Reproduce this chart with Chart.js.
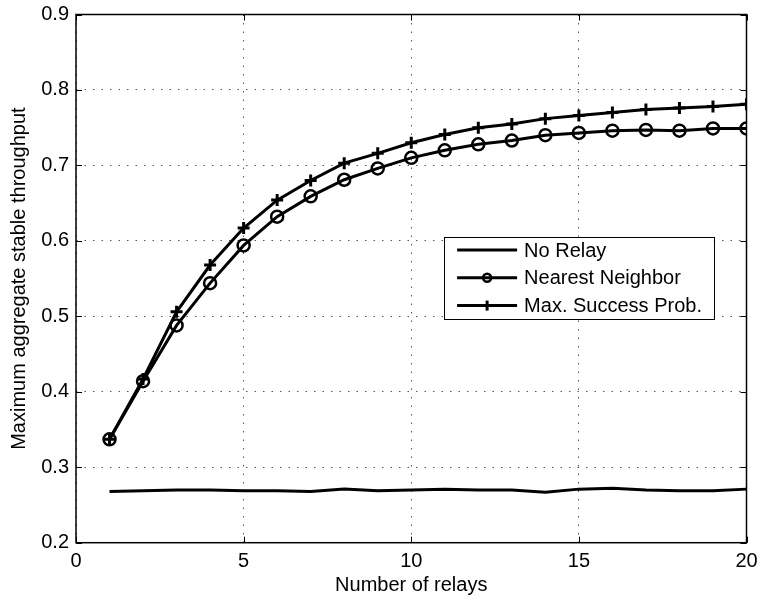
<!DOCTYPE html>
<html>
<head>
<meta charset="utf-8">
<script src="https://cdn.jsdelivr.net/npm/chart.js@4.4.0/dist/chart.umd.min.js"></script>
<style>
  html, body { margin: 0; padding: 0; background: #fff; }
  #wrap { width: 760px; height: 596px; }
</style>
</head>
<body>
<div id="wrap"><canvas id="c" width="760" height="596"></canvas></div>
<script>
const relays = [1,2,3,4,5,6,7,8,9,10,11,12,13,14,15,16,17,18,19,20];
const noRelay = [0.268,0.269,0.270,0.270,0.269,0.269,0.268,0.271,0.269,0.270,0.271,0.270,0.270,0.267,0.271,0.272,0.270,0.269,0.269,0.271];
const nearestNeighbor = [0.337,0.414,0.488,0.544,0.594,0.632,0.659,0.681,0.696,0.710,0.720,0.728,0.733,0.740,0.743,0.746,0.747,0.746,0.749,0.749];
const maxSuccessProb = [0.337,0.417,0.506,0.568,0.617,0.654,0.680,0.703,0.716,0.730,0.741,0.750,0.755,0.762,0.766,0.770,0.774,0.776,0.778,0.781];
const seriesNames = ['No Relay', 'Nearest Neighbor', 'Max. Success Prob.'];
const xTicks = [0, 5, 10, 15, 20];
const yTicks = [0.2, 0.3, 0.4, 0.5, 0.6, 0.7, 0.8, 0.9];
const xTitle = 'Number of relays';
const yTitle = 'Maximum aggregate stable throughput';

const FONT = 'Liberation Sans, Arial, Helvetica, sans-serif';
const FS = 20;
const toXY = arr => relays.map((x, i) => ({x: x, y: arr[i]}));

const boxPlugin = {
  id: 'matlabBox',
  beforeDatasetsDraw(chart) {
    const {ctx, chartArea: a, scales} = chart;
    ctx.save();
    ctx.strokeStyle = '#000';
    ctx.lineWidth = 1;
    ctx.beginPath();
    const tl = 6;
    xTicks.forEach(v => {
      const px = Math.round(scales.x.getPixelForValue(v)) + 0.5;
      ctx.moveTo(px, a.bottom); ctx.lineTo(px, a.bottom - tl);
      ctx.moveTo(px, a.top); ctx.lineTo(px, a.top + tl);
    });
    yTicks.forEach(v => {
      const py = Math.round(scales.y.getPixelForValue(v)) + 0.5;
      ctx.moveTo(a.left, py); ctx.lineTo(a.left + tl, py);
      ctx.moveTo(a.right, py); ctx.lineTo(a.right - tl, py);
    });
    ctx.stroke();
    ctx.lineWidth = 1.5;
    ctx.strokeRect(a.left, a.top, a.right - a.left, a.bottom - a.top);
    ctx.restore();
  },
  afterDraw(chart) {
    const {ctx, chartArea: a} = chart;
    const w = a.right - a.left, h = a.bottom - a.top;
    const bx = a.left + 0.549 * w, bx2 = a.left + 0.951 * w;
    const by = a.top + 0.421 * h, by2 = a.top + 0.576 * h;
    ctx.save();
    ctx.fillStyle = '#fff';
    ctx.fillRect(bx, by, bx2 - bx, by2 - by);
    ctx.strokeStyle = '#000';
    ctx.lineWidth = 1;
    ctx.strokeRect(Math.round(bx) + 0.5, Math.round(by) + 0.5, Math.round(bx2 - bx), Math.round(by2 - by));
    const rowH = (by2 - by) / 3;
    const sx1 = bx + 13, sx2 = bx + 73, tx = bx + 80;
    ctx.font = FS + 'px ' + FONT;
    ctx.textBaseline = 'middle';
    ctx.textAlign = 'left';
    chart.data.datasets.forEach((ds, i) => {
      const cy = by + rowH * (i + 0.5) + (i - 1) * 0.5;
      ctx.strokeStyle = '#000';
      ctx.lineWidth = 3;
      ctx.beginPath(); ctx.moveTo(sx1, cy); ctx.lineTo(sx2, cy); ctx.stroke();
      const mx = (sx1 + sx2) / 2;
      if (ds.pointStyle === 'circle' && ds.pointRadius > 0) {
        ctx.lineWidth = 2.5;
        ctx.beginPath(); ctx.arc(mx, cy, 4, 0, Math.PI * 2); ctx.stroke();
      } else if (ds.pointStyle === 'cross' && ds.pointRadius > 0) {
        ctx.lineWidth = 3;
        ctx.beginPath(); ctx.moveTo(mx, cy - 5); ctx.lineTo(mx, cy + 5); ctx.stroke();
      }
      ctx.fillStyle = '#000';
      ctx.fillText(ds.label, tx, cy + 1);
    });
    ctx.restore();
  }
};

new Chart(document.getElementById('c'), {
  type: 'line',
  data: {
    datasets: [
      { label: seriesNames[0], data: toXY(noRelay), borderColor: '#000', borderWidth: 3, pointRadius: 0, pointStyle: 'line', tension: 0 },
      { label: seriesNames[1], data: toXY(nearestNeighbor), borderColor: '#000', borderWidth: 3, pointStyle: 'circle', pointRadius: 6, pointBorderWidth: 2.5, pointBackgroundColor: 'rgba(0,0,0,0)', pointBorderColor: '#000', tension: 0 },
      { label: seriesNames[2], data: toXY(maxSuccessProb), borderColor: '#000', borderWidth: 3, pointStyle: 'cross', pointRadius: 6, pointBorderWidth: 3, pointBorderColor: '#000', tension: 0 }
    ]
  },
  options: {
    responsive: false,
    animation: false,
    devicePixelRatio: 1,
    layout: { autoPadding: false, padding: { left: 0, right: 13.5, top: 14.5, bottom: 0 } },
    plugins: { legend: { display: false }, tooltip: { enabled: false } },
    scales: {
      x: {
        type: 'linear', min: 0, max: 20,
        afterBuildTicks: s => { s.ticks = xTicks.map(v => ({value: v})); },
        afterFit: s => { s.height = 53.3; s.paddingLeft = 0; s.paddingRight = 0; },
        ticks: { color: '#000', font: { family: FONT, size: FS }, padding: 7, maxRotation: 0, callback: v => String(v) },
        grid: { color: '#555', lineWidth: 1, drawTicks: false },
        border: { display: false, dash: [1.5, 7] },
        title: { display: true, text: xTitle, color: '#000', font: { family: FONT, size: FS }, padding: { top: 0, bottom: -1.5 } }
      },
      y: {
        type: 'linear', min: 0.2, max: 0.9,
        afterBuildTicks: s => { s.ticks = yTicks.map(v => ({value: v})); },
        afterFit: s => { s.width = 76; s.paddingTop = 0; s.paddingBottom = 0; },
        ticks: { color: '#000', font: { family: FONT, size: FS }, padding: 7, callback: v => Number(v).toFixed(1) },
        grid: { color: '#555', lineWidth: 1, drawTicks: false },
        border: { display: false, dash: [1.5, 7] },
        title: { display: true, text: yTitle, color: '#000', font: { family: FONT, size: FS }, padding: { top: 7, bottom: 0 } }
      }
    }
  },
  plugins: [boxPlugin]
});
</script>
</body>
</html>
